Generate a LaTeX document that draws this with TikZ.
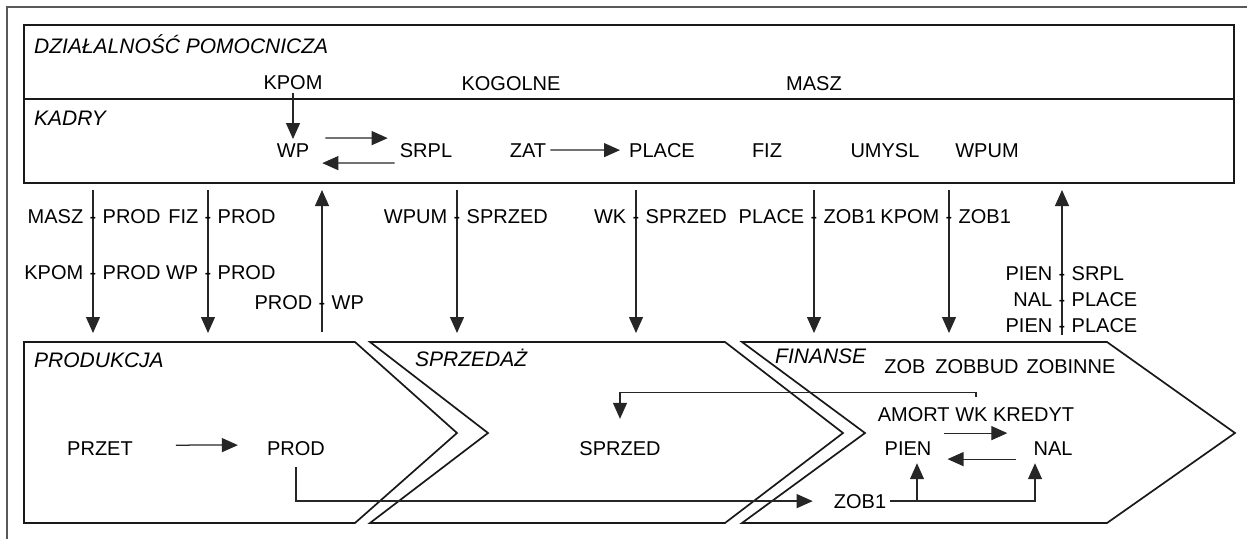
\documentclass[tikz,border=0pt]{standalone}
\usepackage{fontspec}
\setmainfont{Liberation Sans}
\usetikzlibrary{arrows.meta}
\newcommand\pairlbl[5]{%
  \node[lbl, anchor=base east] (#1l) at (#2-9.5,#3) {#4};
  \node[lbl, anchor=base] (#1h) at (#2,#3) {-};
  \node[lbl, anchor=base west] (#1r) at (#2+9.5,#3) {#5};}
\begin{document}
\begin{tikzpicture}[x=1pt,y=-1pt,
  txt/.style={font=\fontsize{20}{24}\selectfont, inner sep=4pt, anchor=base, text=black},
  lbl/.style={font=\fontsize{20}{24}\selectfont, inner sep=0pt, text=black},
  ttl/.style={font=\fontsize{21}{24}\selectfont\itshape, inner sep=0pt, anchor=base west, text=black},
  box/.style={draw=black!90, line width=1.7pt},
  conn/.style={line width=1.25pt, draw=black!85, -{Triangle[length=16pt,width=14pt]}},
]
\useasboundingbox (0,0) rectangle (1247,538);
% outer frame
\draw[black!65, line width=2pt] (7,560) -- (7,7) -- (1260,7);

% upper boxes
\draw[box] (24,25) rectangle (1234,183);
\draw[box] (24,99) -- (1234,99);

\node[ttl] (dzial) at (34,53) {DZIAŁALNOŚĆ POMOCNICZA};
\node[txt] (kpom) at (293,89) {KPOM};
\node[txt] (kogolne) at (511,90) {KOGOLNE};
\node[txt] (masz) at (814,90) {MASZ};

\node[ttl] (kadry) at (34,125) {KADRY};
\node[txt] (wp) at (293,157) {WP};
\node[txt] (srpl) at (426,157) {SRPL};
\node[txt] (zat) at (528,157) {ZAT};
\node[txt] (place) at (662,157) {PLACE};
\node[txt] (fiz) at (767,157) {FIZ};
\node[txt] (umysl) at (885,157) {UMYSL};
\node[txt] (wpum) at (987,157) {WPUM};

\draw[conn] (kpom) -- (wp);
\draw[conn, shorten <=12pt, shorten >=8pt] ([yshift=12pt]wp.east) -- ([yshift=12pt]srpl.west);
\draw[conn, shorten <=1pt, shorten >=9pt] ([yshift=-13pt]srpl.west) -- ([yshift=-13pt]wp.east);
\draw[conn, shorten >=5pt] (zat) -- (place);

% connection points on the boxes
\foreach \n/\x in {a/93,b/208,c/322,d/457,e/636,f/814,g/949,h/1062}{
  \coordinate (top\n) at (\x,183);
  \coordinate (bot\n) at (\x,342);
}
\draw[conn, shorten <=7pt, shorten >=9pt] (topa) -- (bota);
\draw[conn, shorten <=7pt, shorten >=9pt] (topb) -- (botb);
\draw[conn, shorten <=10pt, shorten >=7pt] (botc) -- (topc);
\draw[conn, shorten <=7pt, shorten >=9pt] (topd) -- (botd);
\draw[conn, shorten <=7pt, shorten >=9pt] (tope) -- (bote);
\draw[conn, shorten <=7pt, shorten >=9pt] (topf) -- (botf);
\draw[conn, shorten <=7pt, shorten >=9pt] (topg) -- (botg);
\draw[conn, shorten <=7pt, shorten >=7pt] (both) -- (toph);

\pairlbl{la}{93}{223}{MASZ}{PROD}
\pairlbl{lb}{93}{279}{KPOM}{PROD}
\pairlbl{lc}{208}{223}{FIZ}{PROD}
\pairlbl{ld}{208}{279}{WP}{PROD}
\pairlbl{le}{322}{309}{PROD}{WP}
\pairlbl{lf}{457}{223}{WPUM}{SPRZED}
\pairlbl{lg}{636}{223}{WK}{SPRZED}
\pairlbl{lh}{814}{223}{PLACE}{ZOB1}
\pairlbl{li}{949}{223}{KPOM}{ZOB1}
\pairlbl{lj}{1062}{280}{PIEN}{SRPL}
\pairlbl{lk}{1062}{306}{NAL}{PLACE}
\pairlbl{ll}{1062}{332}{PIEN}{PLACE}

% chevrons
\draw[box] (24,342) -- (355,342) -- (457,433) -- (355,523) -- (24,523) -- cycle;
\draw[box] (370,342) -- (725,342) -- (843,433) -- (725,523) -- (370,523) -- (488,433) -- cycle;
\draw[box] (742,342) -- (1107,342) -- (1235,433) -- (1107,523) -- (742,523) -- (865,433) -- cycle;

\node[ttl] (produkcja) at (34,367) {PRODUKCJA};
\node[ttl] (sprzedaz) at (415,366) {SPRZEDAŻ};
\node[ttl] (finanse) at (775,363) {FINANSE};

\node[txt] (przet) at (100,455) {PRZET};
\node[txt] (prod) at (296,455) {PROD};
\node[txt] (sprzed) at (620,455) {SPRZED};
\node[txt] (zob) at (905,373) {ZOB};
\node[txt] (zobbud) at (977,373) {ZOBBUD};
\node[txt] (zobinne) at (1071,373) {ZOBINNE};
\node[txt] (amort) at (976,421) {AMORT WK KREDYT};
\node[txt] (pien) at (908,455) {PIEN};
\node[txt] (nal) at (1053,455) {NAL};
\node[txt] (zob1) at (860,508) {ZOB1};

\draw[conn, shorten <=39pt, shorten >=25pt] ([yshift=3pt]przet.east) -- ([yshift=3pt]prod.west);
\draw[conn, shorten <=8pt, shorten >=17pt] (prod.south) |- (zob1.west);
\draw[conn, shorten <=6pt, shorten >=18pt] (amort.north) -- ++(0,-10.7) -| (sprzed.north);
\draw[conn, shorten <=8pt, shorten >=22pt] ([yshift=15pt]pien.east) -- ([yshift=15pt]nal.west);
\draw[conn, shorten <=13pt, shorten >=12pt] ([yshift=-11pt]nal.west) -- ([yshift=-11pt]pien.east);
\draw[conn, shorten >=4pt] (zob1.east) -| ([xshift=-18pt]nal.south);
\draw[conn, shorten >=4pt] ([xshift=9pt]pien.south |- zob1.east) -- ([xshift=9pt]pien.south);
\end{tikzpicture}
\end{document}
